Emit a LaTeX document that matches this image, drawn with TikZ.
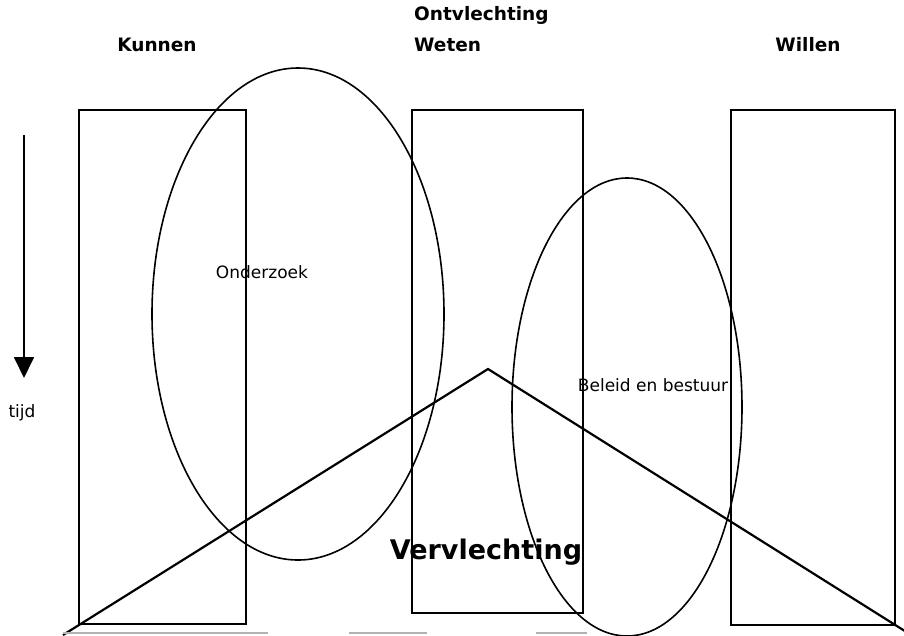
\documentclass[tikz,border=0pt]{standalone}
\usepackage{fontspec}
\setmainfont{DejaVu Sans}
\usetikzlibrary{arrows.meta}
\begin{document}
\begin{tikzpicture}[x=1pt,y=-1pt,
  box/.style={draw=black,line width=2pt},
  oval/.style={draw=black,line width=1.6pt},
  head/.style={font=\fontsize{18.5}{20}\selectfont\bfseries,inner sep=0pt},
  lbl/.style={font=\fontsize{17}{19}\selectfont,inner sep=0pt},
  tri/.style={draw=black,line width=2.2pt}]
\useasboundingbox (0,0) rectangle (904,635);
\clip (0,0) rectangle (904,635);
% rectangles
\node[box,minimum width=167pt,minimum height=514pt,inner sep=0pt] (r1) at (162.5,367) {};
\node[box,minimum width=171pt,minimum height=503pt,inner sep=0pt] (r2) at (497.5,361.5) {};
\node[box,minimum width=164pt,minimum height=515pt,inner sep=0pt] (r3) at (813,367.5) {};
% ellipses
\draw[oval] (298,314) ellipse [x radius=146, y radius=246];
\draw[oval] (627,407) ellipse [x radius=115, y radius=229];
% triangle
\coordinate (apex) at (488,369);
\coordinate (bl) at (63,635);
\coordinate (br) at (908,633);
\draw[tri] (bl) -- (apex) -- (br);
\draw[gray!60,line width=1.2pt] (63,633) -- (268,633) (349,633) -- (427,633) (536,633) -- (587,633);
% headings
\node[head] (kunnen) at (157,45) {Kunnen};
\node[head,anchor=west] (ontv) at (414,15) {Ontvlechting};
\node[head,anchor=west] (weten) at (414,45) {Weten};
\node[head] (willen) at (808,45) {Willen};
% time arrow
\coordinate (tstart) at (24,135);
\coordinate (tend) at (24,378);
\draw[line width=1.8pt,-{Triangle[width=20pt,length=21pt]}] (tstart) -- (tend);
\node[lbl] (tijd) at (22,413) {tijd};
% labels
\node[lbl] (onderzoek) at (262,272) {Onderzoek};
\node[lbl] (beleid) at (653,385) {Beleid en bestuur};
\node[font=\fontsize{27}{30}\selectfont\bfseries,inner sep=0pt] (vervl) at (486,552) {Vervlechting};
\end{tikzpicture}
\end{document}
